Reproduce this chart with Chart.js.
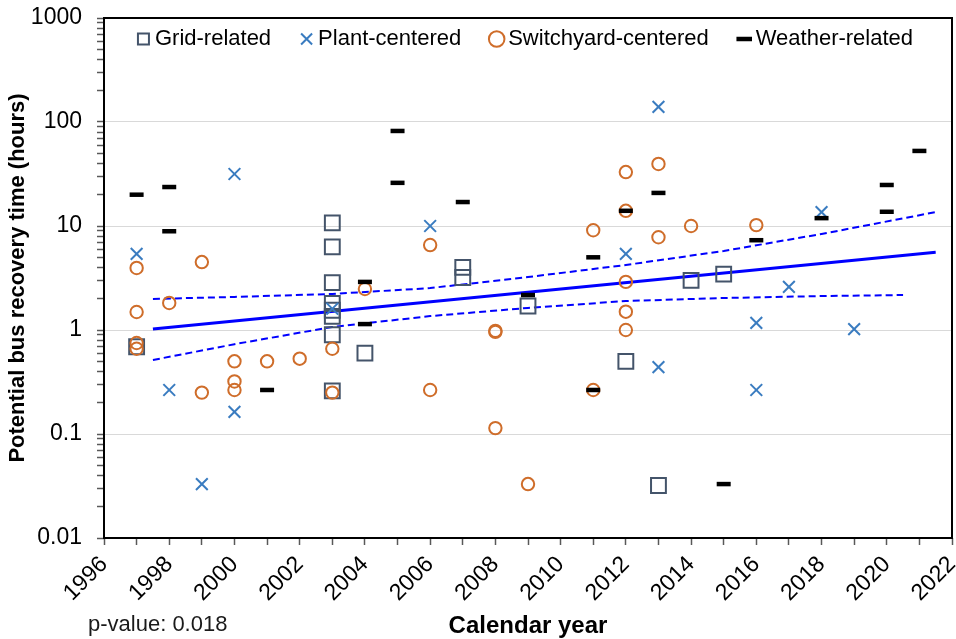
<!DOCTYPE html>
<html>
<head>
<meta charset="utf-8">
<script src="https://cdn.jsdelivr.net/npm/chart.js@4.4.1/dist/chart.umd.min.js"></script>
<style>
  html, body { margin: 0; padding: 0; background: #fff; }
  canvas { display: block; }
</style>
</head>
<body>
<canvas id="myChart" width="956" height="639"></canvas>
<script>
// values (hours, log scale)
const gridYears = [1997, 2003, 2003, 2003, 2003, 2003, 2003, 2003, 2003, 2004, 2007, 2007, 2009, 2012, 2013, 2014, 2015];
const gridHours = [0.69, 10.7, 6.3, 2.85, 1.8, 1.55, 1.35, 0.9, 0.26, 0.6, 4.0, 3.2, 1.7, 0.5, 0.032, 3.0, 3.45];

const plantYears = [1997, 1998, 1999, 2000, 2000, 2003, 2006, 2012, 2013, 2013, 2016, 2016, 2017, 2018, 2019];
const plantHours = [5.4, 0.265, 0.033, 31.6, 0.163, 1.6, 10.0, 5.4, 140, 0.44, 1.17, 0.265, 2.6, 13.6, 1.02];

const switchYears = [1997, 1997, 1997, 1997, 1998, 1999, 1999, 2000, 2000, 2000, 2001, 2002, 2003, 2003, 2004, 2006, 2006,
  2008, 2008, 2008, 2009, 2011, 2011, 2012, 2012, 2012, 2012, 2012, 2013, 2013, 2014, 2016];
const switchHours = [3.95, 1.49, 0.75, 0.66, 1.82, 4.5, 0.25, 0.5, 0.32, 0.265, 0.5, 0.53, 0.66, 0.25, 2.48, 6.56, 0.265,
  0.98, 0.96, 0.114, 0.033, 9.1, 0.265, 33, 14, 2.9, 1.5, 1.0, 39.5, 7.8, 10, 10.2];

const weatherYears = [1997, 1998, 1998, 2001, 2004, 2004, 2005, 2005, 2007, 2009, 2011, 2011, 2012, 2013, 2015, 2016, 2018, 2020, 2020, 2021];
const weatherHours = [20, 23.7, 8.9, 0.265, 2.9, 1.14, 82, 26, 17, 2.17, 5.0, 0.265, 14, 20.8, 0.033, 7.3, 11.9, 24.8, 13.7, 52.7];

const trendYears = [1997.5, 2021.5];
const trendHours = [1.02, 5.6];
const upperYears = [1997.5, 2000, 2003, 2006, 2009, 2012, 2015, 2018, 2021.5];
const upperHours = [1.99, 2.08, 2.22, 2.53, 3.23, 4.22, 5.75, 8.38, 13.6];
const lowerYears = [1997.5, 2000, 2003, 2006, 2009, 2012, 2015, 2018, 2020.5];
const lowerHours = [0.515, 0.73, 1.07, 1.36, 1.63, 1.9, 2.03, 2.12, 2.17];

const yMajorTicks = [0.01, 0.1, 1, 10, 100, 1000];
const yTickLabels = ['0.01', '0.1', '1', '10', '100', '1000'];
const yMinorSteps = [2, 3, 4, 5, 6, 7, 8, 9];
const xMin = 1996, xMax = 2022;
const pValueNote = 'p-value: 0.018';

const FONT = '"Liberation Sans", Arial, sans-serif';

function pts(xs, ys) {
  return xs.map((x, i) => ({ x: x, y: ys[i] }));
}

// tick list for the log axis: decades plus 2..9 in between
const yTickValues = [];
yMajorTicks.forEach((d, i) => {
  yTickValues.push(d);
  if (i < yMajorTicks.length - 1) yMinorSteps.forEach(m => yTickValues.push(d * m));
});

// the legend box is laid out above the plot, then moved down into the frame
const legendInside = {
  id: 'legendInside',
  afterLayout(chart) {
    const lg = chart.legend;
    if (!lg) return;
    const dy = 42;
    lg.top += dy;
    lg.bottom += dy;
  }
};

const framePlugin = {
  id: 'frame',
  afterDraw(chart) {
    const { ctx, chartArea: a } = chart;
    ctx.save();
    ctx.strokeStyle = '#000';
    ctx.lineWidth = 2;
    ctx.strokeRect(a.left, a.top, a.right - a.left, a.bottom - a.top);
    ctx.font = '22px ' + FONT;
    ctx.fillStyle = '#1a1a1a';
    ctx.textBaseline = 'middle';
    ctx.fillText(pValueNote, 88, 625);
    ctx.restore();
  }
};

const ctx = document.getElementById('myChart').getContext('2d');

const myChart = new Chart(ctx, {
  type: 'scatter',
  data: {
    datasets: [
      {
        label: 'Grid-related', data: pts(gridYears, gridHours), order: 4,
        pointStyle: 'rect', pointRadius: 10.5, pointBorderWidth: 2,
        borderColor: '#44546A', backgroundColor: 'rgba(0,0,0,0)'
      },
      {
        label: 'Plant-centered', data: pts(plantYears, plantHours), order: 3,
        pointStyle: 'crossRot', pointRadius: 8.3, pointBorderWidth: 2,
        borderColor: '#3A7CC0', backgroundColor: 'rgba(0,0,0,0)'
      },
      {
        label: 'Switchyard-centered', data: pts(switchYears, switchHours), order: 2,
        pointStyle: 'circle', pointRadius: 6.2, pointBorderWidth: 2,
        borderColor: '#CF6D2A', backgroundColor: 'rgba(0,0,0,0)'
      },
      {
        label: 'Weather-related', data: pts(weatherYears, weatherHours), order: 1,
        pointStyle: 'line', pointRadius: 7, pointBorderWidth: 4.5,
        borderColor: '#000', backgroundColor: '#000'
      },
      {
        label: 'Trend', data: pts(trendYears, trendHours), order: 5,
        showLine: true, pointRadius: 0, borderColor: '#0000FF', borderWidth: 3
      },
      {
        label: 'Upper', data: pts(upperYears, upperHours), order: 6,
        showLine: true, pointRadius: 0, borderColor: '#0000FF', borderWidth: 2, borderDash: [7, 4]
      },
      {
        label: 'Lower', data: pts(lowerYears, lowerHours), order: 7,
        showLine: true, pointRadius: 0, borderColor: '#0000FF', borderWidth: 2, borderDash: [7, 4]
      }
    ]
  },
  options: {
    responsive: false,
    animation: false,
    events: [],
    layout: { autoPadding: false, padding: { top: -49, right: 4, left: 0, bottom: 0 } },
    scales: {
      x: {
        type: 'linear',
        min: xMin,
        max: xMax,
        afterFit: s => { s.height = 101; s.paddingRight = 0; s.paddingLeft = 0; },
        border: { display: false },
        grid: { drawOnChartArea: false, tickLength: 7, tickColor: '#595959', tickWidth: 1.5 },
        ticks: {
          stepSize: 1,
          autoSkip: false,
          maxRotation: 45,
          minRotation: 45,
          padding: 6,
          color: '#000',
          font: { family: FONT, size: 23 },
          callback: v => (v % 2 === 0 ? String(v) : '')
        },
        title: {
          display: true,
          text: 'Calendar year',
          color: '#000',
          font: { family: FONT, size: 24, weight: 'bold', lineHeight: 1 },
          padding: { top: 0, bottom: 1 }
        }
      },
      y: {
        type: 'logarithmic',
        min: yMajorTicks[0],
        max: yMajorTicks[yMajorTicks.length - 1],
        afterBuildTicks: s => { s.ticks = yTickValues.map(v => ({ value: v })); },
        afterFit: s => { s.width = 104; s.paddingTop = 0; s.paddingBottom = 0; },
        border: { display: false },
        grid: {
          color: c => (c.tick && yMajorTicks.includes(c.tick.value) ? '#d9d9d9' : 'rgba(0,0,0,0)'),
          lineWidth: 1,
          tickLength: 7,
          tickColor: '#595959',
          tickWidth: 1.5
        },
        ticks: {
          autoSkip: false,
          padding: 15,
          color: '#000',
          font: { family: FONT, size: 23 },
          callback: v => {
            const i = yMajorTicks.indexOf(v);
            return i >= 0 ? yTickLabels[i] : '';
          }
        },
        title: {
          display: true,
          text: 'Potential bus recovery time (hours)',
          color: '#000',
          font: { family: FONT, size: 22, weight: 'bold' },
          padding: { top: 5, bottom: 0 }
        }
      }
    },
    plugins: {
      tooltip: { enabled: false },
      legend: {
        position: 'top',
        fullSize: false,
        align: 'center',
        labels: {
          usePointStyle: true,
          boxWidth: 1,
          boxHeight: 11,
          padding: 35,
          color: '#000',
          font: { family: FONT, size: 22 },
          filter: item => item.datasetIndex < 4,
          sort: (a, b) => a.datasetIndex - b.datasetIndex
        }
      }
    }
  },
  plugins: [legendInside, framePlugin]
});
</script>
</body>
</html>
